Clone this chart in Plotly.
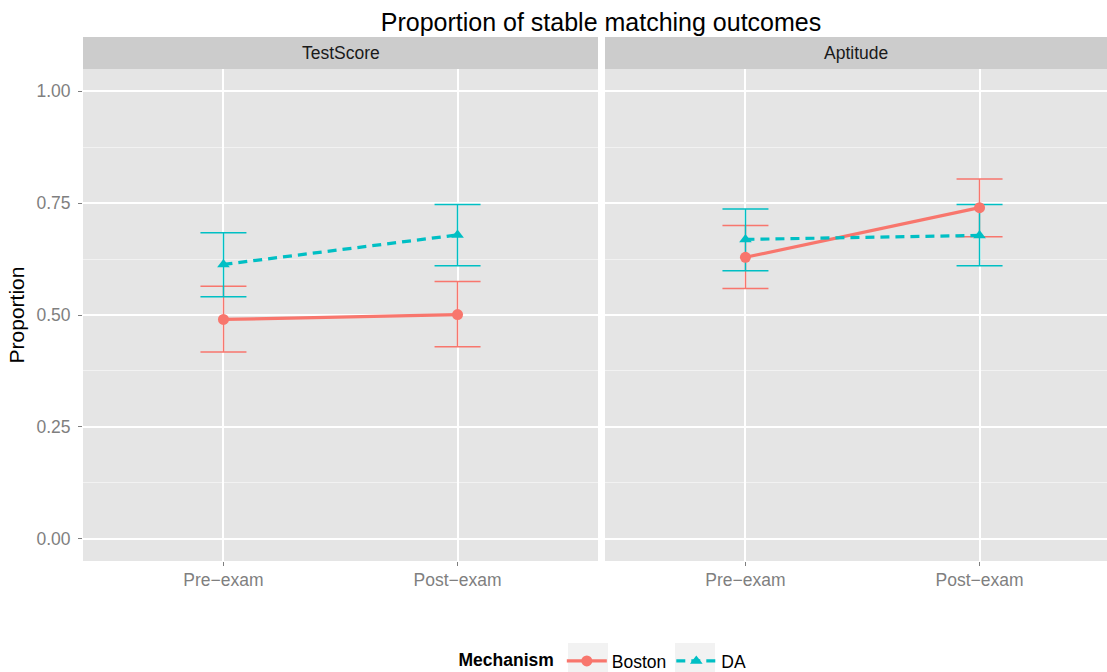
import plotly.graph_objects as go

# Stable matching proportions with confidence bounds, faceted by treatment
phases = ["Pre\u2212exam", "Post\u2212exam"]
phase_pos = [1, 2]
panels = ["TestScore", "Aptitude"]
mechanisms = ["Boston", "DA"]

boston_mean = {"TestScore": [0.490, 0.501], "Aptitude": [0.629, 0.740]}
boston_low = {"TestScore": [0.417, 0.429], "Aptitude": [0.559, 0.675]}
boston_high = {"TestScore": [0.564, 0.575], "Aptitude": [0.700, 0.804]}

da_mean = {"TestScore": [0.613, 0.679], "Aptitude": [0.669, 0.678]}
da_low = {"TestScore": [0.541, 0.610], "Aptitude": [0.599, 0.610]}
da_high = {"TestScore": [0.684, 0.747], "Aptitude": [0.737, 0.747]}

y_ticks = [0.0, 0.25, 0.5, 0.75, 1.0]

colors = {"Boston": "#F8766D", "DA": "#00BFC4"}
symbols = {"Boston": "circle", "DA": "triangle-up"}
dashes = {"Boston": "solid", "DA": "9px,6px"}
series = {
    "Boston": (boston_mean, boston_low, boston_high),
    "DA": (da_mean, da_low, da_high),
}

FONT = "Liberation Sans, Arial, sans-serif"

fig = go.Figure()

W, H = 1107, 672
ml, mr, mt, mb = 83, 0, 69, 111
pw = W - ml - mr
ph = H - mt - mb
panel_px = 515
gap_px = 7
dom1 = [0, panel_px / pw]
dom2 = [(panel_px + gap_px) / pw, 1]
unit_px = panel_px / 2.2
x2_max = 0.4 + (pw - panel_px - gap_px) / unit_px

for pi, panel in enumerate(panels):
    xa = "x" if pi == 0 else "x2"
    ya = "y" if pi == 0 else "y2"
    # error bars first so that points sit on top of them
    for m in mechanisms:
        mean, low, high = series[m]
        mu = mean[panel]
        fig.add_trace(go.Scatter(
            x=phase_pos, y=mu, mode="markers",
            marker=dict(size=1, color="rgba(0,0,0,0)"),
            error_y=dict(type="data", symmetric=False,
                         array=[h - v for h, v in zip(high[panel], mu)],
                         arrayminus=[v - l for v, l in zip(mu, low[panel])],
                         color=colors[m], thickness=1.5, width=23),
            xaxis=xa, yaxis=ya, showlegend=False, hoverinfo="skip",
        ))
    for m in mechanisms:
        mean, low, high = series[m]
        fig.add_trace(go.Scatter(
            x=phase_pos, y=mean[panel], mode="lines+markers", name=m,
            line=dict(color=colors[m], width=3.2, dash=dashes[m]),
            marker=dict(color=colors[m], symbol=symbols[m], size=11),
            xaxis=xa, yaxis=ya, legendgroup=m, showlegend=(pi == 0),
        ))

tick_font = dict(family=FONT, size=17.5, color="#7F7F7F")
common_x = dict(
    tickvals=phase_pos, ticktext=phases, showgrid=True, gridcolor="white",
    gridwidth=2, zeroline=False, ticks="outside", ticklen=4, tickcolor="#7F7F7F",
    tickfont=tick_font, showline=False, ticklabelstandoff=-1,
)
minor_grid = dict(tickmode="linear", tick0=0.125, dtick=0.25, showgrid=True,
                  gridcolor="#F2F2F2", gridwidth=1, ticks="")
fig.update_layout(
    xaxis=dict(domain=dom1, range=[0.4, 2.6], anchor="y", **common_x),
    xaxis2=dict(domain=dom2, range=[0.4, x2_max], anchor="y2", **common_x),
    yaxis=dict(
        range=[-0.05, 1.05], tickvals=y_ticks, ticktext=[f"{v:.2f}" for v in y_ticks],
        showgrid=True, gridcolor="white", gridwidth=2, zeroline=False,
        ticks="outside", ticklen=4, tickcolor="#7F7F7F", tickfont=tick_font,
        ticklabelstandoff=4, minor=minor_grid,
        title=dict(text="Proportion", standoff=6,
                   font=dict(family=FONT, size=21, color="black")),
        anchor="x",
    ),
    yaxis2=dict(
        range=[-0.05, 1.05], matches="y", tickvals=y_ticks, showticklabels=False,
        showgrid=True, gridcolor="white", gridwidth=2, zeroline=False, ticks="",
        minor=minor_grid, anchor="x2",
    ),
)

# facet strips
strip_h = 32 / ph
for pi, panel in enumerate(panels):
    sfx = "" if pi == 0 else "2"
    fig.add_shape(type="rect", xref=f"x{sfx} domain", yref=f"y{sfx} domain",
                  x0=0, x1=1, y0=1, y1=1 + strip_h, fillcolor="#CCCCCC",
                  line=dict(width=0), layer="below")
    fig.add_annotation(text=panel, xref=f"x{sfx} domain", yref=f"y{sfx} domain",
                       x=0.5, y=1 + strip_h / 2, showarrow=False,
                       font=dict(family=FONT, size=17.5, color="#1A1A1A"),
                       xanchor="center", yanchor="middle")

# light key backgrounds behind the legend symbols (pixel boxes -> paper coords)
def px_to_paper(x_px, y_px):
    return (x_px - ml) / pw, (H - mb - y_px) / ph

for x0_px, x1_px in [(568, 608), (675, 715)]:
    x0, y0 = px_to_paper(x0_px, 680)
    x1, y1 = px_to_paper(x1_px, 643)
    fig.add_shape(type="rect", xref="paper", yref="paper", x0=x0, x1=x1, y0=y0, y1=y1,
                  fillcolor="#F2F2F2", line=dict(width=0), layer="below")

fig.update_layout(
    width=W, height=H,
    margin=dict(l=ml, r=mr, t=mt, b=mb),
    paper_bgcolor="white", plot_bgcolor="#E5E5E5",
    title=dict(text="Proportion of stable matching outcomes", x=601 / W, xref="container",
               xanchor="center", y=1 - 22 / H, yref="container", yanchor="middle",
               font=dict(family=FONT, size=25, color="black")),
    legend=dict(orientation="h", xref="container", yref="container",
                x=604 / W, xanchor="center", y=1 - 661 / H, yanchor="middle",
                title=dict(text="<b>Mechanism</b>", side="left",
                           font=dict(family=FONT, size=17.5, color="black")),
                font=dict(family=FONT, size=17.5, color="black"),
                bgcolor="rgba(0,0,0,0)",
                itemwidth=40, tracegroupgap=0),
    showlegend=True,
)

fig.write_html("out.html")
